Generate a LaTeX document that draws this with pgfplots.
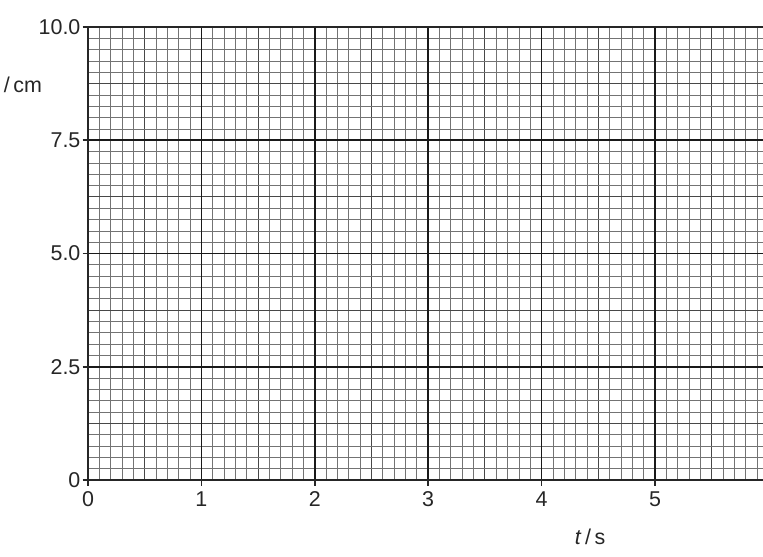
\documentclass[border=0pt]{standalone}
\usepackage{fontspec}
\setmainfont{Liberation Sans}
\usepackage{pgfplots}
\pgfplotsset{compat=1.18}

\pgfplotsset{paper/.style={
    at={(0,0)}, anchor=south west,
    scale only axis,
    width=13.61cm, height=9.06cm,
    xmin=0, xmax=6, ymin=0, ymax=10}}

% 1 unit = 1 pixel of the reference
\begin{document}
\begin{tikzpicture}[x=0.02cm,y=0.02cm]
\useasboundingbox (-88,-77) rectangle (675,480);
% fine grid: 0.1 s x 0.25 cm, with heavier lines every 0.5 s / 1.25 cm
\begin{axis}[
    paper,
    xtick={0,0.5,...,6},
    ytick={0,1.25,...,10},
    xticklabels={}, yticklabels={},
    minor x tick num=4,
    minor y tick num=4,
    grid=both,
    minor grid style={line width=0.45pt, black!55},
    major grid style={line width=0.65pt, black!72},
    major tick length=0pt, minor tick length=0pt,
    axis line style={draw=none},
]
\addplot[draw=none, forget plot] coordinates {(0,0) (6,10)};
\end{axis}
% main grid, ticks and labels
\begin{axis}[
    paper,
    xtick={0,1,2,3,4,5,6},
    ytick={0,2.5,5,7.5,10},
    yticklabels={0,2.5,5.0,7.5,10.0},
    grid=major,
    major grid style={line width=1.0pt, black!90},
    tick pos=left,
    tick align=outside,
    major tick length=0.11cm,
    tick style={line width=1.0pt, black!85},
    axis line style={line width=1.2pt, black!85},
    ticklabel style={font=\fontsize{12.2}{14}\selectfont, text=black!85, inner sep=1pt},
    xticklabel style={yshift=-2.5pt},
    /pgf/number format/assume math mode=true,
]
\addplot[draw=none, forget plot] coordinates {(0,0) (6,10)};
\end{axis}
\node[font=\fontsize{12.2}{14}\selectfont, text=black!85] at (502,-57) {\textit{t}\,/\,s};
\node[font=\fontsize{12.2}{14}\selectfont, text=black!85] at (-65,395) {/\,cm};
\end{tikzpicture}
\end{document}
